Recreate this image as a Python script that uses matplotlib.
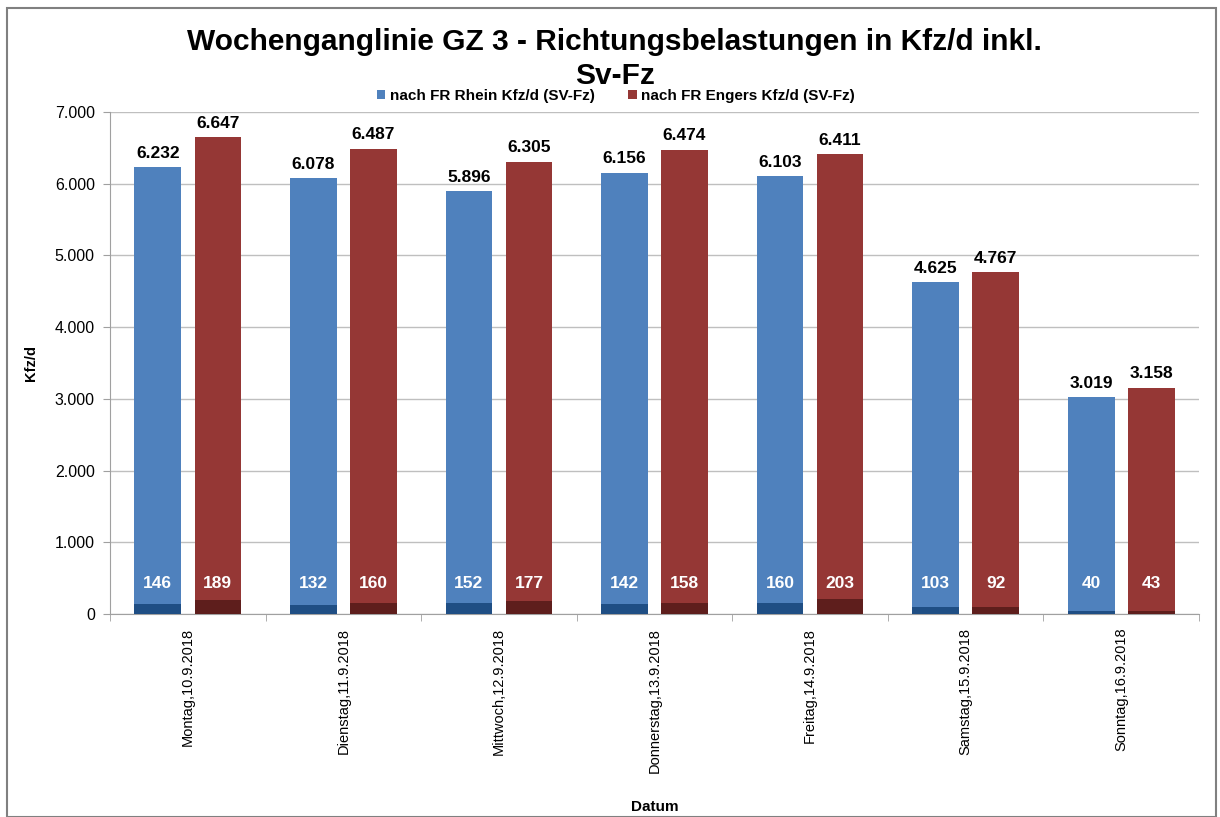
import numpy as np
import matplotlib.pyplot as plt
from matplotlib.ticker import FuncFormatter
from matplotlib.patches import Rectangle

plt.rcParams['font.family'] = ['Liberation Sans', 'DejaVu Sans']

# Daten
tage = ['Montag,10.9.2018', 'Dienstag,11.9.2018', 'Mittwoch,12.9.2018',
        'Donnerstag,13.9.2018', 'Freitag,14.9.2018', 'Samstag,15.9.2018',
        'Sonntag,16.9.2018']
rhein_kfz = [6232, 6078, 5896, 6156, 6103, 4625, 3019]
engers_kfz = [6647, 6487, 6305, 6474, 6411, 4767, 3158]
rhein_sv = [146, 132, 152, 142, 160, 103, 40]
engers_sv = [189, 160, 177, 158, 203, 92, 43]

blau = '#4F81BD'
rot = '#953735'
blau_dunkel = '#1F4E84'
rot_dunkel = '#5E1E1C'

def tausender(v, pos):
    return f'{int(v):,}'.replace(',', '.')

fig = plt.figure(figsize=(12.2, 8.17), dpi=100)
ax = fig.add_axes([0.0902, 0.2485, 0.8926, 0.6144])

x = np.arange(len(tage))
b = 0.30
d = 0.193

ax.bar(x - d, rhein_kfz, b, color=blau, zorder=2, label='nach FR Rhein Kfz/d (SV-Fz)')
ax.bar(x + d, engers_kfz, b, color=rot, zorder=2, label='nach FR Engers Kfz/d (SV-Fz)')
ax.bar(x - d, rhein_sv, b, color=blau_dunkel, zorder=3)
ax.bar(x + d, engers_sv, b, color=rot_dunkel, zorder=3)

for i in range(len(tage)):
    ax.text(x[i] - d, rhein_kfz[i] + 90, tausender(rhein_kfz[i], None), ha='center',
            va='bottom', fontsize=12.5, fontweight='bold')
    ax.text(x[i] + d, engers_kfz[i] + 90, tausender(engers_kfz[i], None), ha='center',
            va='bottom', fontsize=12.5, fontweight='bold')
    ax.text(x[i] - d, 430, str(rhein_sv[i]), ha='center', va='center',
            fontsize=12.5, fontweight='bold', color='white', zorder=4)
    ax.text(x[i] + d, 430, str(engers_sv[i]), ha='center', va='center',
            fontsize=12.5, fontweight='bold', color='white', zorder=4)

ax.set_xlim(-0.5, len(tage) - 0.5)
ax.set_ylim(0, 7000)
ax.set_yticks(np.arange(0, 7001, 1000))
ax.yaxis.set_major_formatter(FuncFormatter(tausender))
ax.yaxis.grid(True, color='#BFBFBF', linewidth=1, zorder=0)
ax.set_xticks(x)
ax.set_xticklabels(tage, rotation=90, fontsize=10.5)
ax.set_xticks(np.arange(-0.5, len(tage)), minor=True)
ax.tick_params(axis='x', which='major', length=0, pad=10)
ax.tick_params(axis='x', which='minor', length=5, color='#A0A0A0')
ax.tick_params(axis='y', labelsize=11.5, length=5, color='#A0A0A0', pad=6)
for s in ['top', 'right']:
    ax.spines[s].set_visible(False)
ax.spines['left'].set_color('#A0A0A0')
ax.spines['bottom'].set_color('#A0A0A0')

ax.set_ylabel('Kfz/d', fontsize=10.5, fontweight='bold')
ax.yaxis.set_label_coords(-0.066, 0.5)
ax.set_xlabel('Datum', fontsize=11, fontweight='bold')
ax.xaxis.set_label_coords(0.5, -0.37)

fig.text(0.504, 0.948, 'Wochenganglinie GZ 3 - Richtungsbelastungen in Kfz/d inkl.',
         ha='center', va='center', fontsize=21.5, fontweight='bold')
fig.text(0.504, 0.907, 'Sv-Fz', ha='center', va='center', fontsize=21.5, fontweight='bold')
fig.legend(loc='center', bbox_to_anchor=(0.505, 0.883), ncol=2, frameon=False,
           prop={'size': 11, 'weight': 'bold'}, handlelength=0.55, handleheight=0.55,
           columnspacing=2.2, handletextpad=0.3, borderpad=0)

fig.patches.append(Rectangle((0.006, 0.0), 0.991, 0.99, transform=fig.transFigure,
                             fill=False, edgecolor='#808080', linewidth=1.5))

plt.savefig('out.png')
